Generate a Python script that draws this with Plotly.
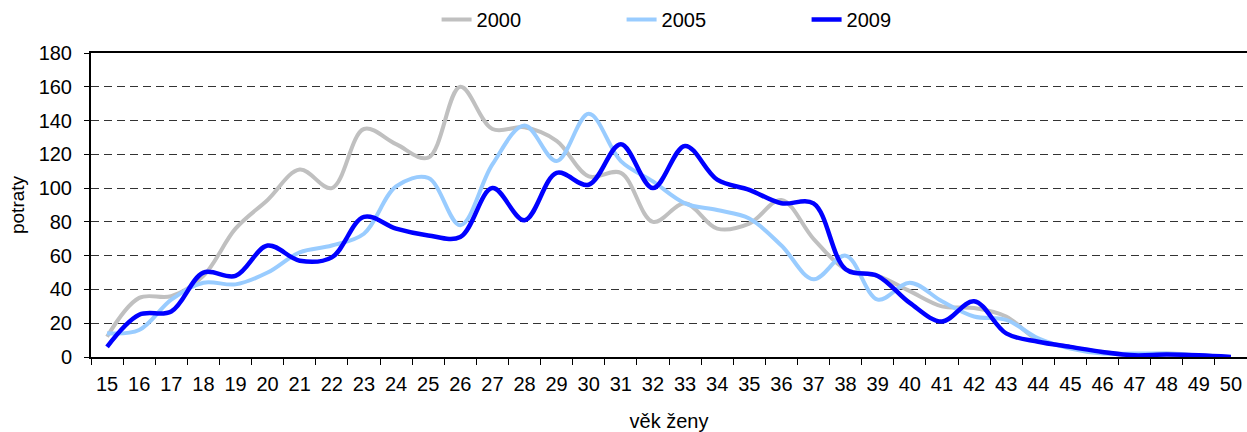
import plotly.graph_objects as go

ages = [str(a) for a in range(15, 51)]

y2000 = [12, 35, 36, 48, 76, 93, 111, 100, 135, 126, 118, 160,
         135, 136, 128, 107, 109, 80, 91, 76, 79, 93, 70, 52,
         48, 39, 30, 29, 24, 10, 6, 3, 1.5, 2, 1, 0]
y2005 = [14, 16, 34, 44, 43, 50, 62, 66, 73, 101, 106, 78,
         114, 137, 116, 144, 116, 104, 91, 87, 82, 66, 46, 60,
         34, 44, 33, 24, 22, 11, 5, 2, 2, 2, 1, 0]
y2009 = [6, 25, 27, 50, 48, 66, 57, 59, 83, 76, 72, 71,
         100, 81, 109, 102, 126, 100, 125, 105, 99, 91, 91, 52,
         48, 32, 21, 33, 14, 9, 6, 3, 1, 1.5, 1, 0]

series = [("2000", y2000, "#C0C0C0", 4),
          ("2005", y2005, "#99CCFF", 4),
          ("2009", y2009, "#0000FF", 4.5)]

FONT = "Arial, Liberation Sans, sans-serif"

fig = go.Figure()
for name, vals, col, w in series:
    fig.add_trace(go.Scatter(
        x=ages, y=vals, name=name, mode="lines",
        line=dict(color=col, width=w, shape="spline", smoothing=1.0),
    ))

fig.update_layout(
    width=1247, height=432,
    margin=dict(l=91, r=0, t=53, b=75, autoexpand=False),
    plot_bgcolor="white", paper_bgcolor="white",
    font=dict(family=FONT, size=20, color="black"),
    showlegend=True,
    legend=dict(orientation="h", x=0.539, xanchor="center", y=1.0, yanchor="top",
                yref="container", font=dict(size=20), entrywidth=140,
                itemwidth=30, traceorder="normal"),
)

fig.update_xaxes(
    type="category", range=[-0.5, 35.5], automargin=False,
    showline=True, linecolor="black", linewidth=2, mirror=True,
    ticks="outside", ticklen=6, tickcolor="black", tickwidth=1,
    tickson="boundaries", showgrid=False, ticklabelstandoff=8,
    tickfont=dict(size=20),
    title=dict(text="věk ženy", font=dict(size=20), standoff=22),
)
fig.update_yaxes(
    range=[0, 180], dtick=20, tick0=0, automargin=False,
    showline=True, linecolor="black", linewidth=2, mirror=True,
    ticks="outside", ticklen=5, tickcolor="black", tickwidth=1,
    showgrid=True, gridcolor="#333333", gridwidth=1, griddash="8px,5px",
    zeroline=False, ticklabelstandoff=8,
    tickfont=dict(size=20),
    title=dict(text="potraty", font=dict(size=19), standoff=9),
)

fig.write_html("out.html", config={"displayModeBar": False},
               post_script="document.body.style.margin='0';")
